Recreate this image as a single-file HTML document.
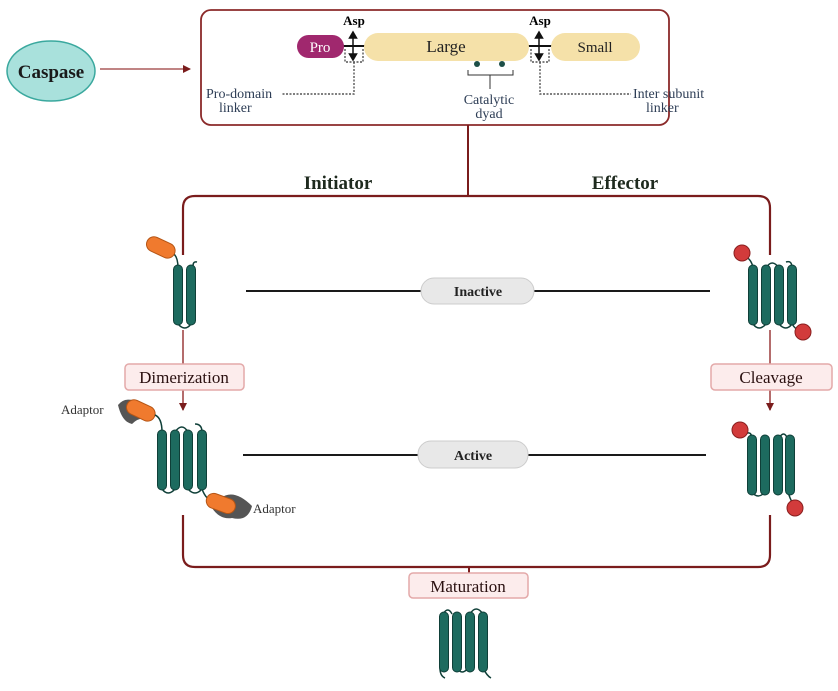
<!DOCTYPE html>
<html><head><style>
html,body{margin:0;padding:0;background:#fff;}
svg{display:block;font-family:"Liberation Serif",serif;}
</style></head><body>
<svg width="838" height="691" viewBox="0 0 838 691" xmlns="http://www.w3.org/2000/svg">
<defs>
<marker id="ah" markerWidth="8" markerHeight="8" refX="7" refY="4" orient="auto" markerUnits="userSpaceOnUse"><path d="M0,0 L8,4 L0,8 z" fill="#7a1c1c"/></marker>
<g id="rod"><rect x="-4.5" y="0" width="9" height="60" rx="4.5" fill="#1d6b5f" stroke="#0f3f38" stroke-width="1"/></g>
</defs>
<!-- Caspase -->
<ellipse cx="51" cy="71" rx="44" ry="30" fill="#a9e1dc" stroke="#3aa89e" stroke-width="1.5"/>
<text x="51" y="78" font-size="19" font-weight="bold" text-anchor="middle" fill="#1a1a1a">Caspase</text>
<line x1="100" y1="69" x2="190" y2="69" stroke="#9a3a3a" stroke-width="1.2" marker-end="url(#ah)"/>
<!-- top box -->
<rect x="201" y="10" width="468" height="115" rx="10" fill="none" stroke="#8b2a2a" stroke-width="1.8"/>
<line x1="343" y1="46" x2="366" y2="46" stroke="#111" stroke-width="2"/>
<line x1="527" y1="46" x2="552" y2="46" stroke="#111" stroke-width="2"/>
<rect x="297" y="35" width="47" height="23" rx="11.5" fill="#a0286e"/>
<text x="320" y="52" font-size="15" fill="#fff" text-anchor="middle">Pro</text>
<rect x="364" y="33" width="165" height="28" rx="14" fill="#f5e1a9"/>
<text x="446" y="52" font-size="17" fill="#222" text-anchor="middle">Large</text>
<rect x="551" y="33" width="89" height="28" rx="14" fill="#f5e1a9"/>
<text x="595" y="52" font-size="15" fill="#222" text-anchor="middle">Small</text>
<text x="354" y="25" font-size="13" font-weight="bold" text-anchor="middle">Asp</text>
<text x="540" y="25" font-size="13" font-weight="bold" text-anchor="middle">Asp</text>
<g stroke="#111" stroke-width="1.5" fill="#111">
<line x1="353" y1="36" x2="353" y2="56"/><path d="M349.5,38 L353,32 L356.5,38z"/><path d="M349.5,54 L353,60 L356.5,54z"/>
<line x1="539" y1="36" x2="539" y2="56"/><path d="M535.5,38 L539,32 L542.5,38z"/><path d="M535.5,54 L539,60 L542.5,54z"/>
</g>
<g stroke="#555" stroke-width="1.4" fill="none" stroke-dasharray="2,1.5">
<path d="M345,49 V62 H363 V49"/><path d="M354,62 V94 H282"/>
<path d="M531,49 V62 H549 V49"/><path d="M540,62 V94 H631"/>
</g>
<circle cx="477" cy="64" r="3" fill="#1d4f48"/><circle cx="502" cy="64" r="3" fill="#1d4f48"/>
<path d="M468,70 V75 H513 V70 M490,75 V89" stroke="#333" stroke-width="1" fill="none"/>
<g font-size="14" fill="#2d3d55">
<text x="206" y="98">Pro-domain</text><text x="219" y="112">linker</text>
<text x="489" y="104" text-anchor="middle">Catalytic</text><text x="489" y="118" text-anchor="middle">dyad</text>
<text x="633" y="98">Inter subunit</text><text x="646" y="112">linker</text>
</g>
<!-- main frame -->
<line x1="468" y1="125" x2="468" y2="196" stroke="#7a1c1c" stroke-width="2"/>
<path d="M183,255 V208 Q183,196 195,196 H758 Q770,196 770,208 V255" fill="none" stroke="#7a1c1c" stroke-width="2.2"/>
<path d="M183,515 V555 Q183,567 195,567 H758 Q770,567 770,555 V515" fill="none" stroke="#7a1c1c" stroke-width="2.2"/>
<line x1="469" y1="567" x2="469" y2="575" stroke="#7a1c1c" stroke-width="2"/>
<line x1="183" y1="330" x2="183" y2="410" stroke="#9a3a3a" stroke-width="1.5" marker-end="url(#ah)"/>
<line x1="770" y1="330" x2="770" y2="410" stroke="#9a3a3a" stroke-width="1.5" marker-end="url(#ah)"/>
<text x="338" y="189" font-size="19" font-weight="bold" text-anchor="middle" fill="#1e2a1e">Initiator</text>
<text x="625" y="189" font-size="19" font-weight="bold" text-anchor="middle" fill="#1e2a1e">Effector</text>
<!-- inactive/active -->
<line x1="246" y1="291" x2="710" y2="291" stroke="#1a1a1a" stroke-width="2"/>
<line x1="243" y1="455" x2="706" y2="455" stroke="#1a1a1a" stroke-width="2"/>
<rect x="421" y="278" width="113" height="26" rx="13" fill="#e8e8e8" stroke="#ccc"/>
<text x="478" y="296" font-size="14" font-weight="bold" text-anchor="middle" fill="#222">Inactive</text>
<rect x="418" y="441" width="110" height="27" rx="13" fill="#e8e8e8" stroke="#ccc"/>
<text x="473" y="460" font-size="14" font-weight="bold" text-anchor="middle" fill="#222">Active</text>
<!-- labels -->
<g font-size="17" fill="#2a1010" text-anchor="middle">
<rect x="125" y="364" width="119" height="26" rx="4" fill="#fcecec" stroke="#e3a9a9" stroke-width="1.5"/>
<text x="184" y="383">Dimerization</text>
<rect x="711" y="364" width="121" height="26" rx="4" fill="#fcecec" stroke="#e3a9a9" stroke-width="1.5"/>
<text x="771" y="383">Cleavage</text>
<rect x="409" y="573" width="119" height="25" rx="4" fill="#fcecec" stroke="#e3a9a9" stroke-width="1.5"/>
<text x="468" y="592">Maturation</text>
</g>
<g font-size="13" fill="#333"><text x="61" y="414">Adaptor</text><text x="253" y="513">Adaptor</text></g>
<!-- initiator inactive -->
<g stroke="#0f3f38" stroke-width="1.5" fill="none">
<path d="M174,254 Q178,258 178,268"/><path d="M193,266 Q193,261 197,262"/><path d="M178,324 Q185,332 191,324"/>
</g>
<use href="#rod" x="178" y="265"/><use href="#rod" x="191" y="265"/>
<rect x="146" y="240" width="30" height="15" rx="7.5" fill="#f07a2e" stroke="#b55515" transform="rotate(25 161 247)"/>
<!-- initiator active -->
<path d="M118,405 Q125,396 138,402 L152,412 Q155,418 148,420 Q140,416 132,424 Q122,422 118,405z" fill="#555"/>
<rect x="126" y="403" width="30" height="15" rx="7.5" fill="#f07a2e" stroke="#b55515" transform="rotate(25 141 410)"/>
<g stroke="#0f3f38" stroke-width="1.5" fill="none">
<path d="M155,415 Q162,418 162,432"/><path d="M162,489 Q168,497 175,489"/><path d="M175,432 Q182,422 188,432"/><path d="M188,489 Q195,497 202,489"/><path d="M202,432 Q202,424 195,424"/><path d="M202,489 Q206,500 214,502"/>
</g>
<use href="#rod" x="162" y="430"/><use href="#rod" x="175" y="430"/><use href="#rod" x="188" y="430"/><use href="#rod" x="202" y="430"/>
<path d="M212,508 Q228,482 252,506 Q248,522 232,518 Q220,520 212,508z" fill="#555"/>
<rect x="206" y="496" width="30" height="15" rx="7.5" fill="#f07a2e" stroke="#b55515" transform="rotate(20 221 503)"/>
<!-- effector inactive -->
<g stroke="#0f3f38" stroke-width="1.5" fill="none">
<path d="M745,256 Q752,260 753,268"/><path d="M753,324 Q759,332 766,324"/><path d="M766,268 Q772,258 779,268"/><path d="M779,324 Q786,332 792,324"/><path d="M792,268 Q792,260 786,262"/><path d="M792,324 Q796,330 801,332"/>
</g>
<use href="#rod" x="753" y="265"/><use href="#rod" x="766" y="265"/><use href="#rod" x="779" y="265"/><use href="#rod" x="792" y="265"/>
<circle cx="742" cy="253" r="8" fill="#d23b3b" stroke="#8a1f1f"/><circle cx="803" cy="332" r="8" fill="#d23b3b" stroke="#8a1f1f"/>
<!-- effector active -->
<g stroke="#0f3f38" stroke-width="1.5" fill="none">
<path d="M745,434 Q752,430 752,440"/><path d="M752,492 Q758,500 765,492"/><path d="M763,440 Q766,432 768,440"/><path d="M778,440 Q784,428 788,440"/><path d="M788,492 Q792,505 796,506"/>
</g>
<use href="#rod" x="752" y="435"/><use href="#rod" x="765" y="435"/><use href="#rod" x="778" y="435"/><use href="#rod" x="790" y="435"/>
<circle cx="740" cy="430" r="8" fill="#d23b3b" stroke="#8a1f1f"/><circle cx="795" cy="508" r="8" fill="#d23b3b" stroke="#8a1f1f"/>
<!-- mature -->
<g stroke="#0f3f38" stroke-width="1.5" fill="none">
<path d="M443,614 Q448,606 452,614"/><path d="M457,668 Q462,676 468,668"/><path d="M470,614 Q476,604 483,614"/><path d="M440,668 Q440,676 445,678"/><path d="M483,668 Q487,676 491,678"/>
</g>
<use href="#rod" x="444" y="612"/><use href="#rod" x="457" y="612"/><use href="#rod" x="470" y="612"/><use href="#rod" x="483" y="612"/>
</svg>
</body></html>
